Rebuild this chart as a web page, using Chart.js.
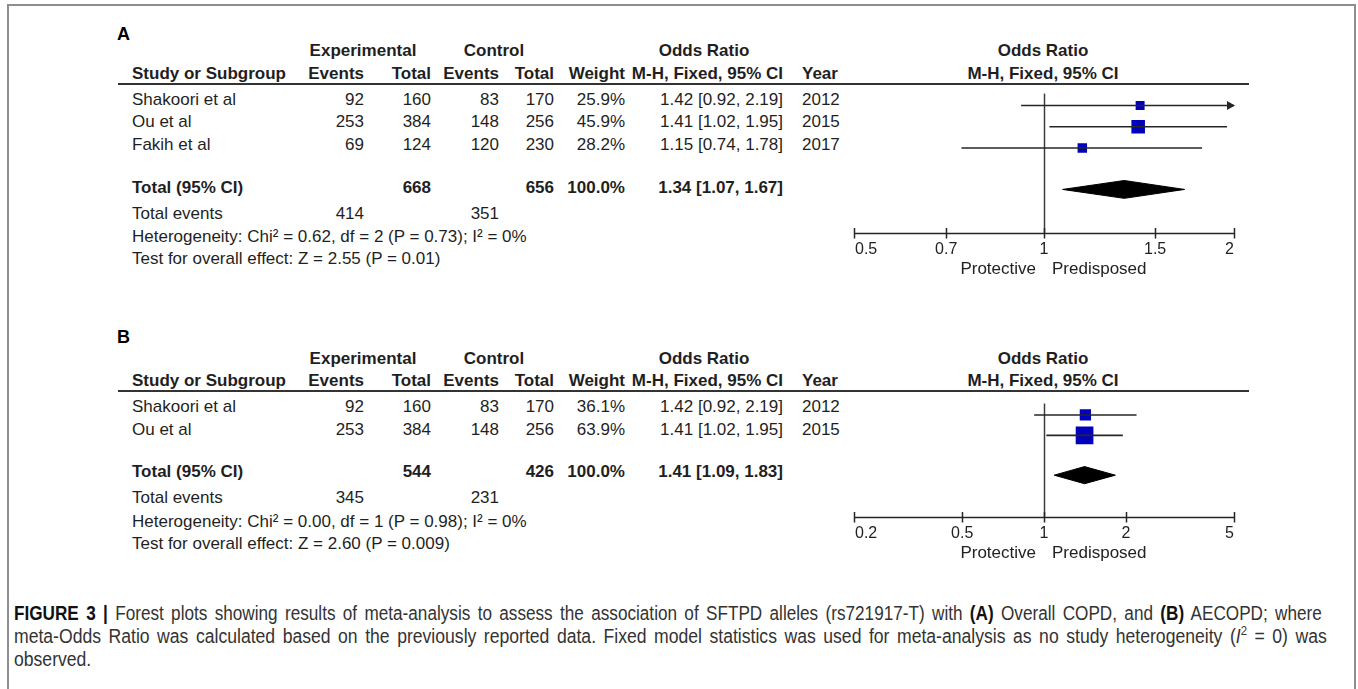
<!DOCTYPE html>
<html>
<head>
<meta charset="utf-8">
<title>Forest plots – SFTPD rs721917-T</title>
<script src="https://cdn.jsdelivr.net/npm/chart.js@4.4.1/dist/chart.umd.min.js"></script>
<style>
  html, body { margin: 0; padding: 0; background: #fff; }
  body { width: 1358px; height: 689px; position: relative; overflow: hidden;
         font-family: "Liberation Sans", Arial, Helvetica, sans-serif; color: #1f1f1f; }
  #frame { position: absolute; left: 7px; top: 4px; width: 1349px; height: 760px;
           border: 2px solid #8e8e8e; border-bottom: none; box-sizing: border-box; }
  .t { position: absolute; white-space: nowrap; font-size: 17px; line-height: 20px; }
  .b { font-weight: bold; }
  .letter { font-size: 18px; font-weight: bold; color: #000; }
  .rule { position: absolute; height: 2px; background: #333; }
  canvas { position: absolute; }
  .cap { position: absolute; left: 14px; white-space: nowrap;
         font-family: "Liberation Sans Narrow", "Arial Narrow", "Liberation Sans", sans-serif;
         font-size: 20px; line-height: 23px; color: #333; word-spacing: 3px; }
  .cap span.line { display: inline-block; transform-origin: 0 50%; }
  .cap b { color: #111; }
  .cap sup { font-size: 13px; line-height: 0; }
</style>
</head>
<body>
<div id="frame"></div>

<canvas id="forestA" width="410" height="200"></canvas>
<canvas id="forestB" width="410" height="180"></canvas>

<div class="cap" style="top:602px"><span class="line" data-width="1308"><b>FIGURE 3 |</b> Forest plots showing results of meta-analysis to assess the association of SFTPD alleles (rs721917-T) with <b>(A)</b> Overall COPD, and <b>(B)</b> AECOPD; where</span></div>
<div class="cap" style="top:625px"><span class="line" data-width="1313">meta-Odds Ratio was calculated based on the previously reported data. Fixed model statistics was used for meta-analysis as no study heterogeneity (<i>I</i><sup>2</sup> = 0) was</span></div>
<div class="cap" style="top:648px"><span class="line">observed.</span></div>

<script>
// ---------- Panel A: overall COPD ----------
const studiesA    = ['Shakoori et al', 'Ou et al', 'Fakih et al'];
const expEventsA  = [92, 253, 69];
const expTotalA   = [160, 384, 124];
const ctrlEventsA = [83, 148, 120];
const ctrlTotalA  = [170, 256, 230];
const weightA     = [25.9, 45.9, 28.2];
const orA         = [1.42, 1.41, 1.15];
const lowerA      = [0.92, 1.02, 0.74];
const upperA      = [2.19, 1.95, 1.78];
const yearA       = [2012, 2015, 2017];
const pooledA     = [1.34, 1.07, 1.67];          // OR, lower, upper
const sumTotalsA  = [668, 656];                   // experimental, control participants
const sumEventsA  = [414, 351];                   // experimental, control events
const hetA        = 'Heterogeneity: Chi² = 0.62, df = 2 (P = 0.73); I² = 0%';
const effectA     = 'Test for overall effect: Z = 2.55 (P = 0.01)';
const ticksA      = [0.5, 0.7, 1, 1.5, 2];

// ---------- Panel B: AECOPD ----------
const studiesB    = ['Shakoori et al', 'Ou et al'];
const expEventsB  = [92, 253];
const expTotalB   = [160, 384];
const ctrlEventsB = [83, 148];
const ctrlTotalB  = [170, 256];
const weightB     = [36.1, 63.9];
const orB         = [1.42, 1.41];
const lowerB      = [0.92, 1.02];
const upperB      = [2.19, 1.95];
const yearB       = [2012, 2015];
const pooledB     = [1.41, 1.09, 1.83];
const sumTotalsB  = [544, 426];
const sumEventsB  = [345, 231];
const hetB        = 'Heterogeneity: Chi² = 0.00, df = 1 (P = 0.98); I² = 0%';
const effectB     = 'Test for overall effect: Z = 2.60 (P = 0.009)';
const ticksB      = [0.2, 0.5, 1, 2, 5];

const sideLabels  = ['Protective', 'Predisposed'];

// ---------- layout ----------
const PAGE_W = 1358;
const ROW = 22.7;                 // row pitch of the study table
const COL = { study: 132, expEv: 364, expTot: 431, ctrlEv: 499, ctrlTot: 554,
              weight: 625, ci: 783, year: 802, plot: 1043 };
const PLOT_LEFT = 840, PLOT_PAD_L = 14, PLOT_W = 380;
const FONT = '"Liberation Sans", Arial, Helvetica, sans-serif';

function put(text, x, y, align, cls) {
  const el = document.createElement('div');
  el.className = 't' + (cls ? ' ' + cls : '');
  el.textContent = text;
  el.style.top = (y - 10) + 'px';
  if (align === 'right') {
    el.style.right = (PAGE_W - x) + 'px';
  } else if (align === 'center') {
    el.style.left = x + 'px';
    el.style.transform = 'translateX(-50%)';
  } else {
    el.style.left = x + 'px';
  }
  document.body.appendChild(el);
  return el;
}

function rule(x1, x2, y) {
  const el = document.createElement('div');
  el.className = 'rule';
  el.style.left = x1 + 'px';
  el.style.width = (x2 - x1) + 'px';
  el.style.top = (y - 1) + 'px';
  document.body.appendChild(el);
}

const ciText = (o, l, u) => `${o.toFixed(2)} [${l.toFixed(2)}, ${u.toFixed(2)}]`;

function drawTable(p) {
  const y0 = p.ruleY;
  put(p.letter, 117, p.letterY, 'left', 'letter');

  // header rows
  put('Experimental', 363, y0 - 32.5, 'center', 'b');
  put('Control', 494, y0 - 32.5, 'center', 'b');
  put('Odds Ratio', 704, y0 - 32.5, 'center', 'b');
  put('Odds Ratio', COL.plot, y0 - 32.5, 'center', 'b');
  const h2 = y0 - 10;
  put('Study or Subgroup', COL.study, h2, 'left', 'b');
  put('Events', COL.expEv, h2, 'right', 'b');
  put('Total', COL.expTot, h2, 'right', 'b');
  put('Events', COL.ctrlEv, h2, 'right', 'b');
  put('Total', COL.ctrlTot, h2, 'right', 'b');
  put('Weight', COL.weight, h2, 'right', 'b');
  put('M-H, Fixed, 95% CI', COL.ci, h2, 'right', 'b');
  put('Year', COL.year, h2, 'left', 'b');
  put('M-H, Fixed, 95% CI', COL.plot, h2, 'center', 'b');
  rule(118, 1249, y0);

  // study rows
  const n = p.studies.length;
  p.studies.forEach((s, i) => {
    const y = y0 + 16 + i * ROW;
    put(s, COL.study, y, 'left');
    put(String(p.expEvents[i]), COL.expEv, y, 'right');
    put(String(p.expTotal[i]), COL.expTot, y, 'right');
    put(String(p.ctrlEvents[i]), COL.ctrlEv, y, 'right');
    put(String(p.ctrlTotal[i]), COL.ctrlTot, y, 'right');
    put(p.weight[i].toFixed(1) + '%', COL.weight, y, 'right');
    put(ciText(p.or[i], p.lower[i], p.upper[i]), COL.ci, y, 'right');
    put(String(p.year[i]), COL.year, y, 'left');
  });

  // pooled rows
  const yt = y0 + 16 + (n - 1) * ROW + 42.7;
  put('Total (95% CI)', COL.study, yt, 'left', 'b');
  put(String(p.sumTotals[0]), COL.expTot, yt, 'right', 'b');
  put(String(p.sumTotals[1]), COL.ctrlTot, yt, 'right', 'b');
  put('100.0%', COL.weight, yt, 'right', 'b');
  put(ciText(p.pooled[0], p.pooled[1], p.pooled[2]), COL.ci, yt, 'right', 'b');
  const ye = yt + 26;
  put('Total events', COL.study, ye, 'left');
  put(String(p.sumEvents[0]), COL.expEv, ye, 'right');
  put(String(p.sumEvents[1]), COL.ctrlEv, ye, 'right');
  put(p.het, COL.study, ye + 23.3, 'left');
  put(p.effect, COL.study, ye + 45.3, 'left');
}

// Axis, null line, arrowheads and side labels of a forest plot
const forestDecor = {
  id: 'forestDecor',
  beforeDatasetsDraw(chart, args, opts) {
    const { ctx, chartArea: a, scales: { x } } = chart;
    const x1 = Math.round(x.getPixelForValue(1)) + 0.5;
    ctx.save();
    ctx.strokeStyle = '#3c3c3c';
    ctx.lineWidth = 1.5;
    ctx.beginPath();
    ctx.moveTo(x1, a.top);
    ctx.lineTo(x1, a.bottom);
    ctx.stroke();
    ctx.restore();
  },
  afterDatasetsDraw(chart, args, opts) {
    const { ctx, chartArea: a, scales: { x, y } } = chart;
    ctx.save();
    ctx.fillStyle = '#262626';
    ctx.strokeStyle = '#262626';

    // arrowheads where a confidence interval runs past the axis
    opts.upper.forEach((u, i) => {
      if (u > x.max) {
        const py = y.getPixelForValue(i);
        const tip = x.getPixelForValue(x.max) + 1;
        ctx.beginPath();
        ctx.moveTo(tip, py);
        ctx.lineTo(tip - 8, py - 4.5);
        ctx.lineTo(tip - 8, py + 4.5);
        ctx.closePath();
        ctx.fill();
      }
    });
    opts.lower.forEach((l, i) => {
      if (l < x.min) {
        const py = y.getPixelForValue(i);
        const tip = x.getPixelForValue(x.min) - 1;
        ctx.beginPath();
        ctx.moveTo(tip, py);
        ctx.lineTo(tip + 8, py - 4.5);
        ctx.lineTo(tip + 8, py + 4.5);
        ctx.closePath();
        ctx.fill();
      }
    });

    // axis line with ticks
    const ay = Math.round(a.bottom) + 0.5;
    const xl = x.getPixelForValue(opts.ticks[0]);
    const xr = x.getPixelForValue(opts.ticks[opts.ticks.length - 1]);
    ctx.lineWidth = 1.5;
    ctx.beginPath();
    ctx.moveTo(xl, ay);
    ctx.lineTo(xr, ay);
    opts.ticks.forEach(t => {
      const px = Math.round(x.getPixelForValue(t)) + 0.5;
      ctx.moveTo(px, ay - 5.5);
      ctx.lineTo(px, ay + 5);
    });
    ctx.stroke();

    // tick labels
    ctx.fillStyle = '#222';
    ctx.font = '16px ' + FONT;
    ctx.textBaseline = 'middle';
    opts.ticks.forEach((t, k) => {
      const px = x.getPixelForValue(t);
      ctx.textAlign = k === 0 ? 'left' : (k === opts.ticks.length - 1 ? 'right' : 'center');
      ctx.fillText(String(t), k === 0 ? px + 1 : px, ay + 16);
    });

    // direction labels either side of the null line
    const x1 = x.getPixelForValue(1);
    ctx.font = '17px ' + FONT;
    ctx.textAlign = 'right';
    ctx.fillText(opts.sides[0], x1 - 8, ay + 36);
    ctx.textAlign = 'left';
    ctx.fillText(opts.sides[1], x1 + 8, ay + 36);
    ctx.restore();
  }
};

function drawForest(canvasId, p) {
  const n = p.or.length;
  const totalRow = n + 0.95;
  const yMin = -0.56, yMax = n + 3;
  const areaH = (yMax - yMin) * ROW;
  const padBottom = 52;

  const cv = document.getElementById(canvasId);
  cv.width = PLOT_PAD_L + PLOT_W + 16;
  cv.height = Math.round(areaH + padBottom);
  cv.style.left = PLOT_LEFT + 'px';
  cv.style.top = p.ruleY + 'px';

  const datasets = [];
  // confidence-interval whiskers
  p.or.forEach((o, i) => {
    datasets.push({
      type: 'line',
      data: [{ x: p.lower[i], y: i }, { x: p.upper[i], y: i }],
      borderColor: '#262626', borderWidth: 1.6, pointRadius: 0, fill: false
    });
  });
  // study estimates, square size growing with weight
  const side = p.weight.map(w => (3 + 0.23 * w) / Math.SQRT2);
  datasets.push({
    type: 'scatter',
    data: p.or.map((o, i) => ({ x: o, y: i })),
    pointStyle: 'rect',
    pointRadius: side,
    pointHoverRadius: side,
    backgroundColor: '#0000bd', borderWidth: 0
  });
  // pooled estimate diamond
  const h = 0.42;
  datasets.push({
    type: 'line',
    data: [
      { x: p.pooled[1], y: totalRow },
      { x: p.pooled[0], y: totalRow - h },
      { x: p.pooled[2], y: totalRow },
      { x: p.pooled[0], y: totalRow + h },
      { x: p.pooled[1], y: totalRow }
    ],
    borderColor: '#000', borderWidth: 1, backgroundColor: '#000',
    fill: 'shape', pointRadius: 0, tension: 0
  });

  new Chart(cv, {
    type: 'scatter',
    data: { datasets },
    options: {
      responsive: false,
      animation: false,
      events: [],
      layout: { padding: { left: PLOT_PAD_L, right: 16, top: 0, bottom: padBottom } },
      scales: {
        x: { type: 'logarithmic', min: p.ticks[0], max: p.ticks[p.ticks.length - 1], display: false },
        y: { type: 'linear', min: yMin, max: yMax, reverse: true, display: false }
      },
      plugins: {
        legend: { display: false },
        tooltip: { enabled: false },
        forestDecor: { ticks: p.ticks, upper: p.upper, lower: p.lower, sides: sideLabels }
      }
    },
    plugins: [forestDecor]
  });
}

const panelA = {
  letter: 'A', letterY: 33.5, ruleY: 83.5,
  studies: studiesA, expEvents: expEventsA, expTotal: expTotalA,
  ctrlEvents: ctrlEventsA, ctrlTotal: ctrlTotalA, weight: weightA,
  or: orA, lower: lowerA, upper: upperA, year: yearA, pooled: pooledA,
  sumTotals: sumTotalsA, sumEvents: sumEventsA, het: hetA, effect: effectA, ticks: ticksA
};
const panelB = {
  letter: 'B', letterY: 337, ruleY: 391,
  studies: studiesB, expEvents: expEventsB, expTotal: expTotalB,
  ctrlEvents: ctrlEventsB, ctrlTotal: ctrlTotalB, weight: weightB,
  or: orB, lower: lowerB, upper: upperB, year: yearB, pooled: pooledB,
  sumTotals: sumTotalsB, sumEvents: sumEventsB, het: hetB, effect: effectB, ticks: ticksB
};

drawTable(panelA);
drawTable(panelB);
drawForest('forestA', panelA);
drawForest('forestB', panelB);

// Caption in a condensed setting: each line is narrowed to fit its measure
let capScale = 1;
document.querySelectorAll('.cap span.line').forEach(el => {
  const target = Number(el.dataset.width);
  if (target) capScale = target / el.offsetWidth;
  el.style.transform = `scaleX(${capScale})`;
});
</script>
</body>
</html>
